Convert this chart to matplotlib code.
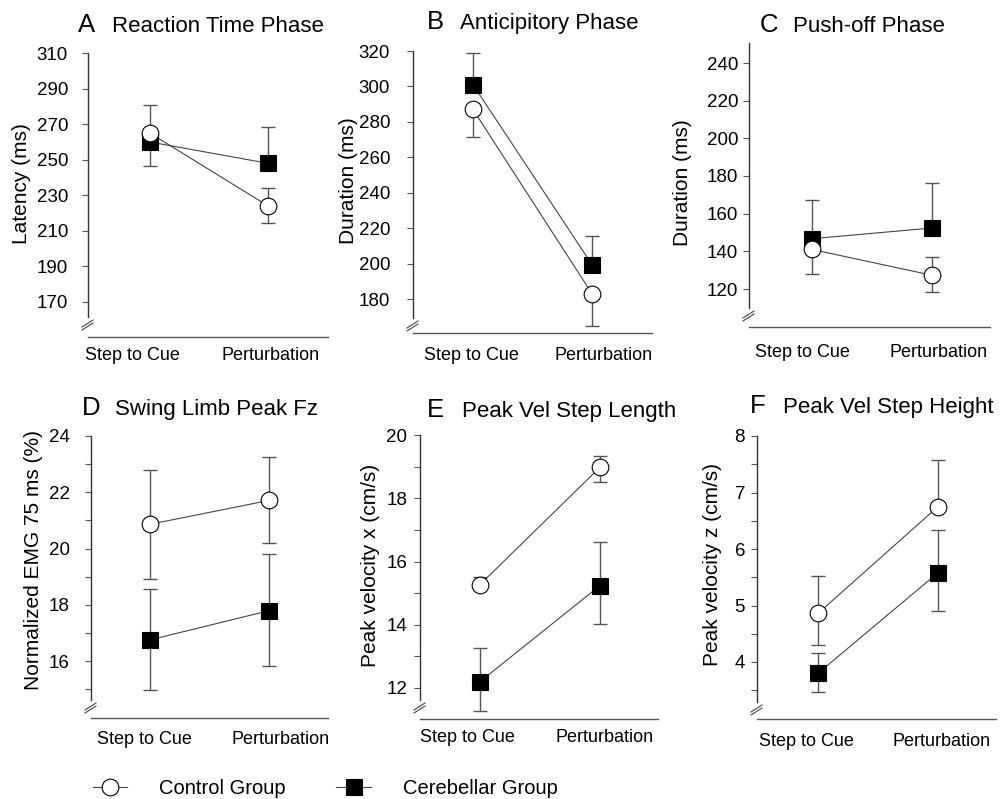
"""Step initiation: control vs cerebellar group, six panels"""
import matplotlib
matplotlib.use("Agg")
import matplotlib.pyplot as plt
from matplotlib.lines import Line2D

plt.rcParams['font.family'] = ['Liberation Sans', 'DejaVu Sans']

W, H = 1002, 799

categories = ["Step to Cue", "Perturbation"]
letters = ["A", "B", "C", "D", "E", "F"]
titles = ["Reaction Time Phase", "Anticipitory Phase", "Push-off Phase",
          "Swing Limb Peak Fz", "Peak Vel Step Length", "Peak Vel Step Height"]
ylabels = ["Latency (ms)", "Duration (ms)", "Duration (ms)",
           "Normalized EMG 75 ms (%)", "Peak velocity x (cm/s)", "Peak velocity z (cm/s)"]

# means and one-sided error extents (0 = bar not drawn)
control_mean = [[265, 224], [287, 183], [141, 127.3], [20.86, 21.71], [15.27, 18.98], [4.86, 6.75]]
control_lo = [[0, 9.7], [15.6, 18.1], [13.3, 9.1], [1.93, 1.5], [0, 0.48], [0.56, 0]]
control_hi = [[16, 10], [0, 0], [0, 9.5], [1.93, 1.54], [0.25, 0.35], [0.66, 0.83]]
cereb_mean = [[260, 248], [301, 199.4], [146.7, 152.4], [16.75, 17.79], [12.2, 15.24], [3.8, 5.58]]
cereb_lo = [[13.5, 0], [0, 0], [0, 0], [1.77, 1.97], [0.93, 1.21], [0.33, 0.68]]
cereb_hi = [[0, 20.6], [18, 16], [20.8, 23.9], [1.82, 2.03], [1.06, 1.39], [0.36, 0.76]]

major_ticks = [list(range(170, 311, 20)), list(range(180, 321, 20)), list(range(120, 241, 20)),
               [16, 18, 20, 22, 24], [12, 14, 16, 18, 20], [4, 5, 6, 7, 8]]
minor_ticks = [[], [], [], [15, 17, 19, 21, 23], [13, 15, 17, 19], [3.5, 4.5, 5.5, 6.5, 7.5]]

# pixel layout: left, right, top, bottom, x of the two categories,
# two (value, pixel) calibration points, spine end, label gap
layout = [
    (88, 328, 53, 337, 150, 268, (310, 53.3), (170, 301.7), 317, 20),
    (413, 652, 51, 333, 473, 592, (320, 51), (180, 299), 318, 23),
    (749, 990, 43, 327, 812, 932, (240, 63), (120, 289), 308, 11),
    (91, 328, 436, 718, 150, 269, (24, 436), (16, 661), 700, 21),
    (420, 658, 435, 719, 480, 600, (20, 435), (12, 688), 700, 13),
    (757, 996, 436, 719, 818, 938, (8, 436), (4, 662), 702, 12),
]
title_pos = [(78, 112, 32), (427, 460, 29), (760, 793, 32),
             (82, 115, 415), (427, 462, 417), (750, 783, 413)]
ylabel_pos = [(22, 184), (348, 181), (682, 183), (34, 560), (371, 565), (713, 565)]
cat_label_pos = [((132, 271), 355), ((471, 604), 355), ((802, 939), 352),
                 ((144, 281), 740), ((467, 605), 738), ((806, 942), 741)]

PX = 72 / 100.0  # points per pixel

fig = plt.figure(figsize=(W / 100, H / 100), dpi=100)


def fx(x):
    return x / W


def fy(y):
    return 1 - y / H


for i in range(6):
    left, right, top, bottom, x0, x1, (va, pa), (vb, pb), sb, gap = layout[i]
    scale = (pb - pa) / (va - vb)

    def val(p):
        return va - (p - pa) / scale

    ax = fig.add_axes([fx(left), fy(bottom), (right - left) / W, (bottom - top) / H])
    ax.set_ylim(val(bottom), val(top))
    unit = x1 - x0
    ax.set_xlim((left - x0) / unit, (right - x0) / unit)
    ax.patch.set_alpha(0)

    xs = [0, 1]
    ax.errorbar(xs, cereb_mean[i], yerr=[cereb_lo[i], cereb_hi[i]], fmt='none',
                ecolor='#555555', elinewidth=1.0, capsize=5, capthick=1.0, zorder=1)
    ax.errorbar(xs, control_mean[i], yerr=[control_lo[i], control_hi[i]], fmt='none',
                ecolor='#555555', elinewidth=1.0, capsize=5, capthick=1.0, zorder=1)
    ax.plot(xs, cereb_mean[i], color='#444444', lw=0.8, zorder=2)
    ax.plot(xs, control_mean[i], color='#444444', lw=0.8, zorder=2)
    ax.plot(xs, cereb_mean[i], ls='none', marker='s', ms=12, mfc='black',
            mec='black', mew=0.8, zorder=3)
    ax.plot(xs, control_mean[i], ls='none', marker='o', ms=12, mfc='white',
            mec='black', mew=0.8, zorder=4)

    for s in ('top', 'right'):
        ax.spines[s].set_visible(False)
    ax.spines['left'].set_bounds(val(sb), val(top))
    ax.spines['left'].set_color('#333333')
    ax.spines['left'].set_linewidth(1.0)
    ax.spines['bottom'].set_color('#555555')
    ax.spines['bottom'].set_linewidth(1.0)

    ax.set_xticks([])
    ax.set_yticks(major_ticks[i])
    ax.set_yticks(minor_ticks[i], minor=True)
    ax.tick_params(axis='y', which='both', direction='out', length=6 * PX,
                   width=0.8, color='#555555', labelsize=13.5,
                   pad=(gap - 6) * PX)
    ax.tick_params(axis='y', which='minor', labelleft=False)

    # axis break mark
    for d in (0, 3):
        fig.add_artist(Line2D([fx(left - 6), fx(left + 5)],
                              [fy(sb + 10 + d), fy(sb + 3 + d)],
                              color='#444444', lw=0.8))

    lx, tx, ty = title_pos[i]
    fig.text(fx(lx), fy(ty), letters[i], fontsize=18.5, va='baseline', ha='left')
    fig.text(fx(tx), fy(ty), titles[i], fontsize=16, va='baseline', ha='left')

    yx, yy = ylabel_pos[i]
    fig.text(fx(yx), fy(yy), ylabels[i], fontsize=15, rotation=90,
             ha='center', va='center')

    (cx0, cx1), cy = cat_label_pos[i]
    for cx, cat in zip((cx0, cx1), categories):
        fig.text(fx(cx), fy(cy), cat, fontsize=13, ha='center', va='center')

handles = [
    Line2D([], [], color='#444444', lw=0.8, marker='o', ms=12, mfc='white',
           mec='black', mew=0.8),
    Line2D([], [], color='#444444', lw=0.8, marker='s', ms=12, mfc='black',
           mec='black', mew=0.8),
]
fig.legend(handles, ["Control Group", "Cerebellar Group"], loc='center left',
           bbox_to_anchor=(fx(93), fy(789)), ncol=2, frameon=False,
           fontsize=14.5, borderpad=0, borderaxespad=0, handlelength=1.7,
           handletextpad=1.6, columnspacing=2.5)

fig.savefig("out.png", dpi=100)
